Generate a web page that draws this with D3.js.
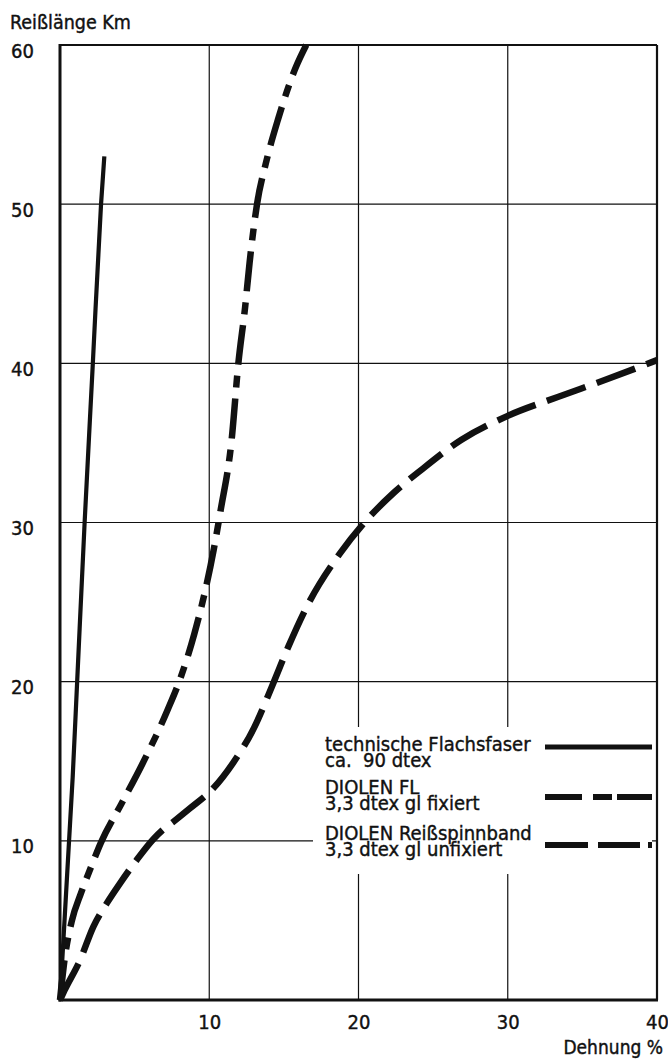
<!DOCTYPE html>
<html>
<head>
<meta charset="utf-8">
<script src="https://cdn.jsdelivr.net/npm/d3@7"></script>
<style>
  html, body { margin: 0; padding: 0; background: #fff; }
  #wrap { position: relative; width: 668px; height: 1059px; }
  svg { display: block; position: absolute; left: 0; top: 0; }
  .txt { font-family: "DejaVu Sans Condensed", "DejaVu Sans", sans-serif; font-stretch: condensed; fill: #111; stroke: #111; stroke-width: 0.4px; }
  .num { font-family: "Liberation Sans Narrow", "DejaVu Sans Condensed", sans-serif; font-stretch: condensed; fill: #111; stroke: #111; stroke-width: 0.4px; }
  .leg { position: absolute; font-family: "DejaVu Sans Condensed", "DejaVu Sans", sans-serif; font-stretch: condensed;
         font-size: 20px; line-height: 16px; color: #111; -webkit-text-stroke: 0.4px #111; white-space: pre; }
</style>
</head>
<body>
<div id="wrap">
<svg id="chart" width="668" height="1059"></svg>
</div>
<script>
// ---- data ----
const xTicks = [10, 20, 30, 40];
const yTicks = [10, 20, 30, 40, 50, 60];
const xTitle = "Dehnung %";
const yTitle = "Reißlänge Km";

// technische Flachsfaser ca. 90 dtex (Dehnung %, Reißlänge km)
const flachsDehnung = [0, 0.85, 1.15, 1.65, 2.2, 2.75, 2.97];
const flachsReiss   = [0, 14, 20, 30, 40, 50, 53];

// DIOLEN FL 3,3 dtex gl fixiert
const flDehnung = [0, 0.3, 0.8, 1.4, 2.1, 2.75, 4.1, 5.5, 7.2, 8.1, 9.0, 9.7, 10.3, 10.75, 11.5, 11.95, 12.4, 12.7, 13.2, 13.8, 14.6, 15.8, 16.5];
const flReiss   = [0, 2.5, 5, 6.7, 8.4, 9.9, 12.3, 14.8, 18.2, 20.3, 23, 25.6, 28.3, 30.7, 35.2, 40, 43.5, 46.3, 50, 52.6, 55.3, 58.6, 60];

// DIOLEN Reißspinnband 3,3 dtex gl unfixiert
const rsDehnung = [0, 0.3, 1.34, 2.23, 3.13, 4.02, 5.14, 6.25, 6.9, 7.6, 8.71, 10.27, 11.6, 13.0, 14.2, 15.3, 16.53, 18.76, 20.4, 22.4, 24.2, 26.9, 30.0, 33.4, 36.5, 40];
const rsReiss   = [0, 0.6, 2.5, 4.6, 6.07, 7.33, 8.8, 10.1, 10.7, 11.2, 12.04, 13.3, 14.9, 17.1, 19.7, 22.2, 24.7, 28.06, 30.0, 31.9, 33.3, 35.2, 36.7, 37.9, 38.95, 40.2];

const legendNames = ["technische Flachsfaser", "DIOLEN FL", "DIOLEN Reißspinnband"];
const legendSubs  = ["ca.  90 dtex", "3,3 dtex gl fixiert", "3,3 dtex gl unfixiert"];

// ---- layout ----
const svg = d3.select("#chart");
const x = d3.scaleLinear().domain([0, 40]).range([60, 657]);
const y = d3.scaleLinear().domain([0, 60]).range([1000, 45]);
const ink = "#111";

// legend box region (white, interrupts the grid)
const lg = { x0: 313, x1: 652, y0: 727, y1: 874 };

// grid
const grid = svg.append("g").attr("stroke", ink).attr("stroke-width", 1.2);
xTicks.filter(d => d < 40).forEach(d => {
  grid.append("line").attr("x1", x(d)).attr("x2", x(d)).attr("y1", y(0)).attr("y2", y(60));
});
yTicks.filter(d => d < 60).forEach(d => {
  grid.append("line").attr("x1", x(0)).attr("x2", x(40)).attr("y1", y(d)).attr("y2", y(d));
});
// white legend background
svg.append("rect").attr("x", lg.x0).attr("y", lg.y0)
  .attr("width", lg.x1 - lg.x0).attr("height", lg.y1 - lg.y0).attr("fill", "#fff");

// frame
svg.append("line").attr("x1", x(0)).attr("x2", x(40)).attr("y1", y(60)).attr("y2", y(60)).attr("stroke", ink).attr("stroke-width", 2);
svg.append("line").attr("x1", x(40)).attr("x2", x(40)).attr("y1", y(60)).attr("y2", y(0)).attr("stroke", ink).attr("stroke-width", 2.2);
svg.append("line").attr("x1", x(0)).attr("x2", x(0)).attr("y1", y(60) - 1).attr("y2", y(0) + 1.5).attr("stroke", ink).attr("stroke-width", 3);
svg.append("line").attr("x1", x(0) - 1.5).attr("x2", x(40) + 1).attr("y1", y(0)).attr("y2", y(0)).attr("stroke", ink).attr("stroke-width", 3);

// axes (labels only, using d3 axes)
const xAxis = d3.axisBottom(x).tickValues(xTicks).tickSize(0).tickPadding(0).tickFormat(d3.format("d"));
const gx = svg.append("g").attr("transform", `translate(0,${y(0)})`).call(xAxis);
gx.select(".domain").remove();
gx.selectAll("text").attr("class", "num").attr("font-size", 20).attr("dy", "1.45em");

const yAxis = d3.axisLeft(y).tickValues(yTicks).tickSize(0).tickPadding(0).tickFormat(d3.format("d"));
const gy = svg.append("g").attr("transform", `translate(34,0)`).call(yAxis);
gy.select(".domain").remove();
gy.selectAll("text").attr("class", "num").attr("font-size", 20).attr("dy", "0.6em");

svg.append("text").attr("class", "txt").attr("x", 10).attr("y", 29).attr("font-size", 19.5).text(yTitle);
svg.append("text").attr("class", "txt").attr("x", 663).attr("y", 1054).attr("font-size", 19).attr("text-anchor", "end").text(xTitle);

// curves
const line = d3.line().x(d => x(d[0])).y(d => y(d[1])).curve(d3.curveMonotoneX);
const zip = (a, b) => a.map((v, i) => [v, b[i]]);

svg.append("path").datum(zip(flachsDehnung, flachsReiss)).attr("d", line)
  .attr("fill", "none").attr("stroke", ink).attr("stroke-width", 4.2);
svg.append("path").datum(zip(flDehnung, flReiss)).attr("d", line)
  .attr("fill", "none").attr("stroke", ink).attr("stroke-width", 6.5)
  .attr("stroke-dasharray", "40,11,12,11");
svg.append("path").datum(zip(rsDehnung, rsReiss)).attr("d", line)
  .attr("fill", "none").attr("stroke", ink).attr("stroke-width", 6.5)
  .attr("stroke-dasharray", "41,12");

// legend
const legTop = [736, 779, 825];
const legSampleY = [747, 797, 845];
const legDash = [null, "37,11,19,5,40", "43,10,42,8,5"];
const wrap = d3.select("#wrap");
legendNames.forEach((name, i) => {
  wrap.append("div").attr("class", "leg")
    .style("left", "325px").style("top", legTop[i] + "px")
    .text(name + "\n" + legendSubs[i]);
  const l = svg.append("line").attr("x1", 545).attr("x2", 652).attr("y1", legSampleY[i]).attr("y2", legSampleY[i])
    .attr("stroke", ink).attr("stroke-width", i === 0 ? 5 : 6);
  if (legDash[i]) l.attr("stroke-dasharray", legDash[i]);
});
</script>
</body>
</html>
